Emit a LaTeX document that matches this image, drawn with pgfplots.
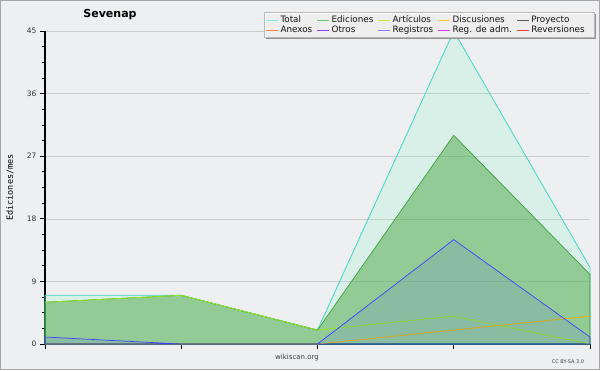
\documentclass[border=0pt]{standalone}
\usepackage{pgfplots}
\pgfplotsset{compat=1.18}
\usepackage{fontspec}
\setmainfont{DejaVu Sans}
\newfontfamily\monofont{DejaVu Sans Mono}
\definecolor{bgc}{RGB}{238,239,240}
\definecolor{cTotal}{RGB}{64,216,200}
\definecolor{fTotal}{RGB}{128,244,200}
\definecolor{cEd}{RGB}{60,160,60}
\definecolor{fEd}{RGB}{80,168,72}
\definecolor{cArt}{RGB}{150,228,30}
\definecolor{cDis}{RGB}{230,180,0}
\definecolor{cReg}{RGB}{64,64,255}
\definecolor{lTotal}{RGB}{140,228,222}
\definecolor{lEd}{RGB}{110,196,110}
\definecolor{lArt}{RGB}{190,236,50}
\definecolor{lDis}{RGB}{255,200,50}
\definecolor{lPro}{RGB}{90,90,90}
\definecolor{lAne}{RGB}{255,130,60}
\definecolor{lOtr}{RGB}{150,60,240}
\definecolor{lReg}{RGB}{130,130,255}
\definecolor{lRad}{RGB}{220,60,230}
\definecolor{lRev}{RGB}{240,60,60}
\begin{document}
\begin{tikzpicture}
\fill[bgc] (-45pt,-26pt) rectangle (555pt,344pt);
\draw[gray!70,line width=1.2pt] (-44.4pt,-25.4pt) rectangle (554.4pt,343.4pt);
\node[font=\bfseries\fontsize{11}{13}\selectfont] at (65pt,329pt) {Sevenap};
\node[font=\fontsize{7}{8}\selectfont,text=black!75] at (252pt,-14pt) {wikiscan.org};
\node[font=\fontsize{5}{6}\selectfont,text=black!75] at (523pt,-18pt) {CC BY-SA 3.0};
\begin{axis}[
  at={(0pt,0pt)}, anchor=origin,
  scale only axis, width=545pt, height=313pt,
  xmin=0, xmax=4, ymin=0, ymax=45,
  axis x line*=bottom, axis y line*=left,
  axis line style={line width=1.2pt, -},
  xtick={0,1,2,3,4}, xticklabels={},
  ytick={0,9,18,27,36,45},
  minor y tick num=3,
  tick align=outside,
  major tick length=5pt, minor tick length=3pt,
  tick style={black, line width=0.8pt},
  ymajorgrids, major grid style={gray!40, line width=0.6pt},
  yticklabel style={font=\fontsize{7.5}{9}\selectfont, text=black!80},
  /pgf/number format/assume math mode=true,
  ylabel={\monofont Ediciones/mes},
  ylabel style={font=\fontsize{8.5}{10}\selectfont, at={(rel axis cs:0,0.5)}, anchor=center, yshift=35pt},
  legend columns=5,
  legend style={at={(rel axis cs:0.4037,1.0575)}, anchor=north west,
    fill=none, draw=none,
    font=\fontsize{8.8}{10}\selectfont, text=black!92,
    inner sep=0.5pt, row sep=-2pt,
    /tikz/every even column/.append style={column sep=2.5pt},
    /tikz/every odd column/.append style={column sep=0pt}},
  legend image code/.code={\draw[#1, line width=0.8pt] (0pt,0pt) -- (12pt,0pt);},
  legend cell align=left,
  clip=false,
]
\addplot[cTotal, line width=0.8pt, fill=fTotal, fill opacity=0.2, forget plot] coordinates {(0,7) (1,7) (2,2) (3,45) (4,11)} \closedcycle;
\addplot[cEd, line width=0.7pt, fill=fEd, fill opacity=0.5, forget plot] coordinates {(0,6) (1,7) (2,2) (3,30) (4,10)} \closedcycle;
\addplot[cArt, line width=0.8pt, forget plot] coordinates {(0,6) (1,7) (2,2) (3,4) (4,0)};
\addplot[cDis, line width=0.8pt, forget plot] coordinates {(0,0) (1,0) (2,0) (3,2) (4,4)};
\addplot[cReg, line width=0.7pt, fill=cReg, fill opacity=0.1, forget plot] coordinates {(0,1) (1,0) (2,0) (3,15) (4,1)} \closedcycle;
\fill[gray!85] (rel axis cs:0.4055,0.9744) rectangle (rel axis cs:1.0110,1.0543);
\fill[white, opacity=0.85] (rel axis cs:0.4018,0.9808) rectangle (rel axis cs:1.0073,1.0607);
\draw[gray!55, line width=0.6pt] (rel axis cs:0.4018,0.9808) rectangle (rel axis cs:1.0073,1.0607);
\addlegendimage{lTotal}\addlegendentry{Total}
\addlegendimage{lEd}\addlegendentry{Ediciones}
\addlegendimage{lArt}\addlegendentry{Artículos}
\addlegendimage{lDis}\addlegendentry{Discusiones}
\addlegendimage{lPro}\addlegendentry{Proyecto}
\addlegendimage{lAne}\addlegendentry{Anexos}
\addlegendimage{lOtr}\addlegendentry{Otros}
\addlegendimage{lReg}\addlegendentry{Registros}
\addlegendimage{lRad}\addlegendentry{Reg. de adm.}
\addlegendimage{lRev}\addlegendentry{Reversiones}
\end{axis}
\end{tikzpicture}
\end{document}
